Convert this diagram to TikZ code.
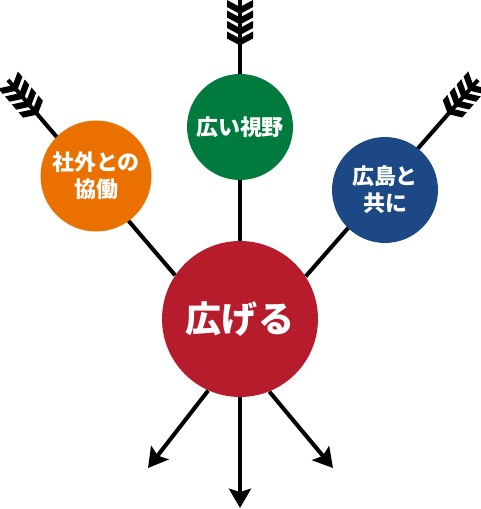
\documentclass[tikz,border=0pt]{standalone}
\usepackage{fontspec}
\newfontfamily\jpfont{Noto Sans CJK JP}
\usetikzlibrary{arrows.meta}

% feathers at the tail of an arrow: #1 tail, #2 direction
\newcommand{\plumes}[2]{%
  \begin{scope}[shift={(#1)}, rotate=#2]
    \foreach \u in {0,10.5,21,31.5}
      \fill (\u,13) -- (\u+7,0) -- (\u,-13) -- (\u+7,-13) -- (\u+14,0) -- (\u+7,13) -- cycle;
  \end{scope}}

\begin{document}
\begin{tikzpicture}[x=0.02cm, y=-0.02cm,
    bulle/.style={circle, fill=#1, text=white, align=center, inner sep=0pt,
      font=\jpfont\bfseries\fontsize{12.5}{15.3}\selectfont},
    tige/.style={line width=2.3pt},
    fleche/.style={tige, -{Stealth[length=11pt, width=12.5pt, inset=2pt]}}]
    \definecolor{rougeH}{RGB}{183, 28, 45}
    \definecolor{vertH}{RGB}{0, 122, 61}
    \definecolor{orangeH}{RGB}{234, 112, 0}
    \definecolor{bleuH}{RGB}{28, 73, 133}
    \useasboundingbox (0,0) rectangle (480,509);

    \node[bulle=rougeH, minimum size=3.12cm,
      font=\jpfont\bfseries\fontsize{20.5}{24}\selectfont] (grandir) at (240,319) {広げる};

    \coordinate (haut) at (240,0);
    \coordinate (gauche) at (8,80);
    \coordinate (droite) at (478,80);
    \draw[tige] (haut) -- (grandir.north);
    \draw[tige] (gauche) -- (grandir.146);
    \draw[tige] (droite) -- (grandir.33);
    \plumes{haut}{-90}
    \plumes{gauche}{-49.4}
    \plumes{droite}{-131.5}

    \node[bulle=vertH, minimum size=2.12cm] (vision) at (240,127) {広い視野};
    \node[bulle=orangeH, minimum size=2.22cm] (dehors) at (96,176) {社外との\\協働};
    \node[bulle=bleuH, minimum size=2.12cm] (hiroshima) at (385,190) {広島と\\共に};

    \coordinate (basG) at (148,468);
    \coordinate (basM) at (240,508);
    \coordinate (basD) at (333,468);
    \draw[fleche] (grandir.246) -- (basG);
    \draw[fleche] (grandir.south) -- (basM);
    \draw[fleche] (grandir.292) -- (basD);
\end{tikzpicture}
\end{document}
